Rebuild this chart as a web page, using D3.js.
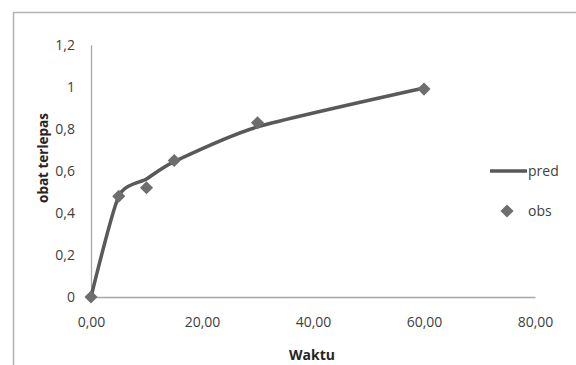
<!DOCTYPE html>
<meta charset="utf-8">
<style>
body { margin: 0; background: #fff; }
text { font-family: "Open Sans", sans-serif; fill: #404040; }
.tick text { font-size: 14px; }
.axis-title { font-size: 14px; font-weight: bold; fill: #262626; }
.legend text { font-size: 14px; }
</style>
<body>
<svg id="graph"></svg>
<script src="https://d3js.org/d3.v7.min.js"></script>
<script>

// data
var times = [0, 5, 10, 15, 30, 60];
var obs = [0, 0.48, 0.52, 0.65, 0.83, 0.99];
var pred = [0, 0.48, 0.562, 0.645, 0.81, 0.995];
var xTicks = [0, 20, 40, 60, 80];
var yTicks = [0, 0.2, 0.4, 0.6, 0.8, 1, 1.2];

var W = 576, H = 365;
var margin = {top: 45, left: 91, right: 41, bottom: 68};
var width = W - margin.left - margin.right,
    height = H - margin.top - margin.bottom;

var svg = d3.select("#graph")
    .attr("width", W)
    .attr("height", H);

// chart border (cropped at right and bottom)
svg.append("rect")
    .attr("x", 13.5).attr("y", 12.5)
    .attr("width", W).attr("height", H)
    .attr("fill", "none")
    .attr("stroke", "#b3b3b3")
    .attr("stroke-width", 1.5);

var g = svg.append("g")
    .attr("transform", "translate(" + margin.left + "," + margin.top + ")");

var x = d3.scaleLinear().domain([0, 80]).range([0, width]);
var y = d3.scaleLinear().domain([0, 1.2]).range([height, 0]);

var fmtX = function(d) { return d3.format(".2f")(d).replace(".", ","); };
var fmtY = function(d) { return String(d).replace(".", ","); };

// x axis
var xa = g.append("g")
    .attr("transform", "translate(0," + height + ")")
    .call(d3.axisBottom(x).tickValues(xTicks).tickFormat(fmtX).tickSize(0).tickPadding(20));
xa.select(".domain").attr("stroke", "#a6a6a6").attr("stroke-width", 1.3);

// y axis
var ya = g.append("g")
    .call(d3.axisLeft(y).tickValues(yTicks).tickFormat(fmtY).tickSize(0).tickPadding(16));
ya.select(".domain").attr("stroke", "#a6a6a6").attr("stroke-width", 1.3);

// axis titles
svg.append("text")
    .attr("class", "axis-title")
    .attr("x", 312).attr("y", 360)
    .attr("text-anchor", "middle")
    .text("Waktu");

svg.append("text")
    .attr("class", "axis-title")
    .attr("transform", "translate(48,158) rotate(-90)")
    .attr("text-anchor", "middle")
    .style("font-size", "13.5px")
    .text("obat terlepas");

// pred line (smoothed)
var line = d3.line()
    .x(function(d, i) { return x(times[i]); })
    .y(function(d) { return y(d); })
    .curve(d3.curveCardinal.tension(0.35));

g.append("path")
    .datum(pred)
    .attr("fill", "none")
    .attr("stroke", "#595959")
    .attr("stroke-width", 3.5)
    .attr("d", line);

// obs points
var diamond = d3.symbol().type(d3.symbolDiamond2).size(110);
g.selectAll(".obs")
    .data(obs)
  .enter().append("path")
    .attr("class", "obs")
    .attr("transform", function(d, i) { return "translate(" + x(times[i]) + "," + y(d) + ")"; })
    .attr("d", diamond)
    .attr("fill", "#6e6e6e");

// legend
var legend = svg.append("g").attr("class", "legend");
legend.append("line")
    .attr("x1", 490).attr("x2", 527)
    .attr("y1", 171).attr("y2", 171)
    .attr("stroke", "#595959")
    .attr("stroke-width", 3.5);
legend.append("text")
    .attr("x", 528).attr("y", 171)
    .attr("dy", "0.35em")
    .text("pred");
legend.append("path")
    .attr("transform", "translate(507,211)")
    .attr("d", diamond)
    .attr("fill", "#6e6e6e");
legend.append("text")
    .attr("x", 528).attr("y", 211)
    .attr("dy", "0.35em")
    .text("obs");

</script>
</body>
